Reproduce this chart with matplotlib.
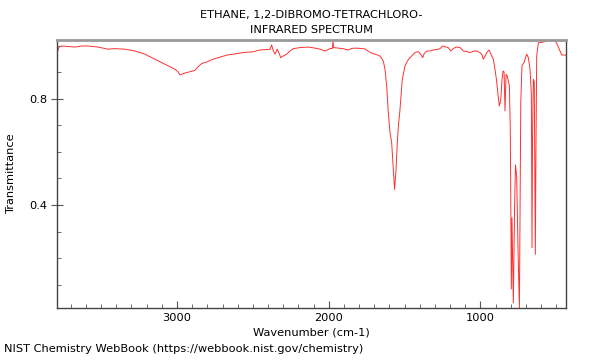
import matplotlib
matplotlib.use("Agg")
import matplotlib.pyplot as plt
from matplotlib.ticker import MultipleLocator

# wavenumber (cm-1) and transmittance
wavenumber = [
    3786, 3778, 3758, 3719, 3672, 3626, 3587, 3521, 3455, 3409, 3343, 3277,
    3211, 3145, 3079, 3013, 2993, 2980, 2947, 2881, 2862, 2837, 2802, 2763,
    2717, 2670, 2618, 2565, 2499, 2453, 2400, 2387, 2376, 2367, 2354, 2339,
    2328, 2316, 2301, 2277, 2255, 2233, 2189, 2136, 2090, 2057, 2024, 1991,
    1975, 1972, 1968, 1939, 1906, 1873, 1846, 1827, 1794, 1761, 1741, 1721,
    1695, 1668, 1655, 1640, 1629, 1618, 1607, 1596, 1585, 1574, 1566, 1556,
    1548, 1540, 1530, 1515, 1497, 1477, 1464, 1431, 1411, 1398, 1380, 1372,
    1354, 1332, 1310, 1286, 1266, 1249, 1227, 1212, 1196, 1179, 1161, 1134,
    1113, 1088, 1069, 1042, 1024, 1003, 989, 981, 969, 956, 943, 925,
    915, 904, 894, 884, 875, 866, 858, 851, 844, 838, 831, 823,
    809, 803, 796, 792, 783, 775, 769, 761, 752, 743, 734, 726,
    713, 695, 684, 673, 664, 660, 656, 651, 645, 638, 634, 629,
    618, 585, 563, 530, 508, 497, 475, 464, 436,
]
transmittance = [
    0.981, 0.996, 1.000, 0.998, 0.996, 1.000, 1.000, 0.996, 0.988, 0.990, 0.988, 0.981,
    0.969, 0.950, 0.931, 0.912, 0.902, 0.891, 0.898, 0.908, 0.921, 0.934, 0.940, 0.950,
    0.958, 0.966, 0.970, 0.975, 0.978, 0.985, 0.987, 0.987, 1.004, 0.985, 0.969, 0.988,
    0.974, 0.956, 0.962, 0.969, 0.981, 0.990, 0.994, 0.996, 0.992, 0.988, 0.981, 0.990,
    0.991, 1.023, 0.994, 0.992, 0.990, 0.985, 0.991, 0.992, 0.991, 0.989, 0.981, 0.974,
    0.969, 0.964, 0.957, 0.943, 0.912, 0.849, 0.748, 0.673, 0.635, 0.535, 0.459, 0.535,
    0.635, 0.702, 0.761, 0.874, 0.925, 0.947, 0.956, 0.975, 0.979, 0.972, 0.956, 0.970,
    0.981, 0.981, 0.985, 0.987, 0.990, 1.000, 0.996, 0.994, 0.981, 0.990, 0.996, 0.994,
    0.981, 0.979, 0.975, 0.981, 0.981, 0.975, 0.966, 0.950, 0.962, 0.977, 0.985, 0.962,
    0.950, 0.912, 0.872, 0.815, 0.774, 0.796, 0.872, 0.906, 0.902, 0.755, 0.893, 0.887,
    0.849, 0.683, 0.083, 0.352, 0.031, 0.381, 0.551, 0.509, 0.230, 0.012, 0.786, 0.925,
    0.937, 0.969, 0.956, 0.912, 0.815, 0.239, 0.683, 0.874, 0.864, 0.214, 0.608, 0.962,
    1.012, 1.015, 1.019, 1.023, 1.019, 1.010, 0.981, 0.966, 0.966,
]

FS = 8.2

fig = plt.figure(figsize=(6, 3.6), dpi=100)
ax = fig.add_axes([0.0955, 0.1444, 0.8478, 0.7445])

ax.plot(wavenumber, transmittance, color="#ff3030", lw=0.7)

ax.set_xlim(3789, 436)
ax.set_ylim(0.0113, 1.0226)

ax.xaxis.set_major_locator(MultipleLocator(1000))
ax.xaxis.set_minor_locator(MultipleLocator(100))
ax.yaxis.set_major_locator(MultipleLocator(0.4))
ax.yaxis.set_minor_locator(MultipleLocator(0.1))
ax.yaxis.set_major_formatter(plt.FuncFormatter(lambda v, p: f"{v:.1f}"))

ax.tick_params(axis="x", which="major", direction="in", length=5, labelsize=FS, color="#555555")
ax.tick_params(axis="x", which="minor", direction="in", length=3, color="#555555")
ax.tick_params(axis="y", which="major", direction="inout", length=8, labelsize=FS, color="#555555")
ax.tick_params(axis="y", which="minor", direction="in", length=3, color="#555555")

for side in ("left", "bottom", "right"):
    ax.spines[side].set_color("#444444")
    ax.spines[side].set_linewidth(1.0)
ax.spines["top"].set_color("#999999")
ax.spines["top"].set_linewidth(2.0)

ax.set_xlabel("Wavenumber (cm-1)", fontsize=FS, labelpad=3)
ax.set_ylabel("Transmittance", fontsize=FS, labelpad=9)
ax.set_title("ETHANE, 1,2-DIBROMO-TETRACHLORO-\nINFRARED SPECTRUM", fontsize=FS, pad=5, linespacing=1.6)

fig.text(0.006, 0.022, "NIST Chemistry WebBook (https://webbook.nist.gov/chemistry)", fontsize=FS)

fig.savefig("out.png", dpi=100)
